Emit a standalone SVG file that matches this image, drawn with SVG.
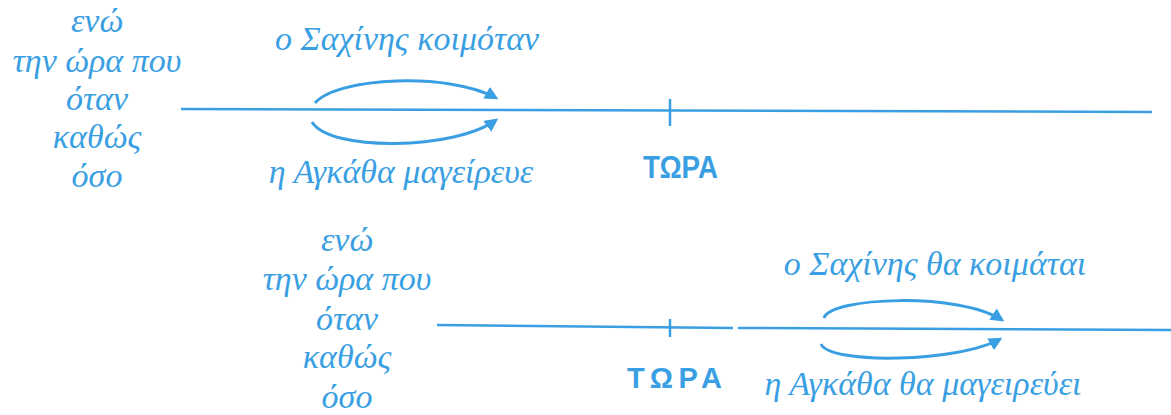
<svg xmlns="http://www.w3.org/2000/svg" width="1171" height="415" viewBox="0 0 1171 415">
  <style>
    .lbl { font-family: "Liberation Serif", "DejaVu Serif", serif; font-style: italic; font-size: 34px; fill: #3a9fe2; }
    .mid { text-anchor: middle; }
    .now { font-family: "Liberation Sans", "DejaVu Sans", sans-serif; font-weight: bold; fill: #3a9fe2; }
    .axis { stroke: #3a9fe2; stroke-width: 2.5; fill: none; }
    .arc { stroke: #3a9fe2; stroke-width: 3; fill: none; marker-end: url(#head); }
  </style>
  <defs>
    <marker id="head" viewBox="0 0 10 10" refX="8" refY="5" markerWidth="4.5" markerHeight="4.5" orient="auto" markerUnits="strokeWidth">
      <path d="M0,0 L10,5 L0,10 Z" fill="#3a9fe2"/>
    </marker>
  </defs>

  <!-- past: conjunctions -->
  <g id="conj-past">
    <text class="lbl mid" x="97" y="32">ενώ</text>
    <text class="lbl mid" x="97" y="72">την ώρα που</text>
    <text class="lbl mid" x="97" y="110">όταν</text>
    <text class="lbl mid" x="97" y="148">καθώς</text>
    <text class="lbl mid" x="97" y="187">όσο</text>
  </g>

  <!-- past: time axis -->
  <g id="axis-past">
    <path class="axis" d="M181,109 L1152,112"/>
    <path class="axis" d="M670,99 L670,126"/>
    <text class="now" x="643" y="178" font-size="31" textLength="75" lengthAdjust="spacingAndGlyphs">ΤΩΡΑ</text>
  </g>

  <!-- past: parallel actions -->
  <g id="action-past-1">
    <text class="lbl mid" x="407" y="50">ο Σαχίνης κοιμόταν</text>
  </g>
  <g id="action-past-2">
    <text class="lbl mid" x="401" y="183">η Αγκάθα μαγείρευε</text>
  </g>

  <!-- future: conjunctions -->
  <g id="conj-future">
    <text class="lbl mid" x="347" y="251">ενώ</text>
    <text class="lbl mid" x="347" y="290">την ώρα που</text>
    <text class="lbl mid" x="347" y="330">όταν</text>
    <text class="lbl mid" x="347" y="368">καθώς</text>
    <text class="lbl mid" x="347" y="408">όσο</text>
  </g>

  <!-- future: time axis -->
  <g id="axis-future">
    <path class="axis" d="M437,325 L733,328 M738,328 L1171,330"/>
    <path class="axis" d="M670,319 L670,337"/>
    <text class="now" x="627" y="388" font-size="29" textLength="95" lengthAdjust="spacing">ΤΩΡΑ</text>
  </g>

  <!-- future: parallel actions -->
  <g id="action-future-1">
    <text class="lbl mid" x="935" y="275">ο Σαχίνης θα κοιμάται</text>
  </g>
  <g id="action-future-2">
    <text class="lbl mid" x="923" y="395">η Αγκάθα θα μαγειρεύει</text>
  </g>

  <!-- connectors: overlap arcs -->
  <g id="connectors">
    <path class="arc" d="M315,103 C337,77 450,72 496,98"/>
    <path class="arc" d="M312,122 C330,152 455,150 496,120"/>
    <path class="arc" d="M824,318 C830,297 960,292 1002,320"/>
    <path class="arc" d="M821,344 C830,365 960,362 1000,339"/>
  </g>
</svg>
